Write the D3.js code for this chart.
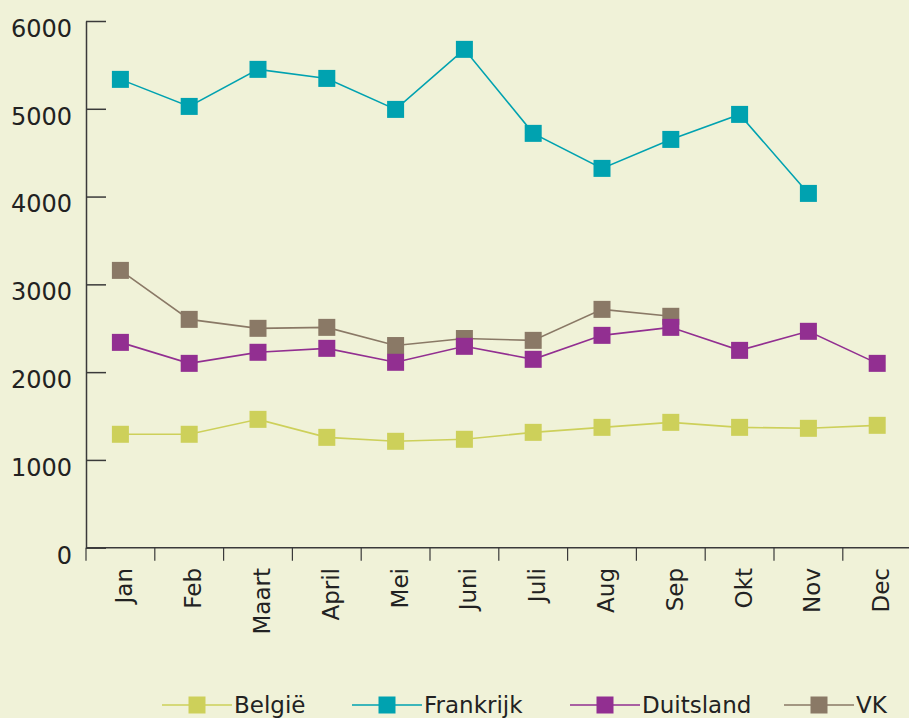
<!DOCTYPE html>
<html>
<head>
<meta charset="utf-8">
<script src="https://cdn.jsdelivr.net/npm/d3@7"></script>
<style>
  body { margin: 0; background: #f0f2d8; }
  svg { display: block; font-family: "DejaVu Sans", Verdana, sans-serif; }
</style>
</head>
<body>
<div id="grafica"></div>
<script>
// Data
var maanden = ["Jan", "Feb", "Maart", "April", "Mei", "Juni", "Juli", "Aug", "Sep", "Okt", "Nov", "Dec"];
var belgie = [1292, 1292, 1462, 1257, 1212, 1235, 1314, 1371, 1428, 1371, 1360, 1394];
var frankrijk = [5335, 5027, 5449, 5346, 4993, 5677, 4720, 4321, 4651, 4936, 4036, null];
var duitsland = [2339, 2100, 2226, 2271, 2112, 2294, 2146, 2419, 2510, 2248, 2465, 2100];
var vk = [3159, 2601, 2499, 2510, 2303, 2383, 2362, 2715, 2636, null, null, null];
var yTicks = [0, 1000, 2000, 3000, 4000, 5000, 6000];

var reeksen = [
  { naam: "België", waarden: belgie, kleur: "#cdd05a" },
  { naam: "Frankrijk", waarden: frankrijk, kleur: "#00a2b0" },
  { naam: "VK", waarden: vk, kleur: "#8a7966" },
  { naam: "Duitsland", waarden: duitsland, kleur: "#922f91" }
];
// volgorde in de legenda is anders dan de tekenvolgorde
var legendaVolgorde = ["België", "Frankrijk", "Duitsland", "VK"];
var legendaX = [162, 352, 570, 784];

var width = 909, height = 718;
var margeLinks = 86, margeBoven = 21, asOnder = 547.7;

var svg = d3.select("#grafica")
  .append("svg")
  .attr("width", width)
  .attr("height", height);

svg.append("rect")
  .attr("width", width)
  .attr("height", height)
  .attr("fill", "#f0f2d8");

var x = d3.scaleBand()
  .domain(maanden)
  .range([margeLinks, margeLinks + 12 * 68.8]);

var y = d3.scaleLinear()
  .domain([0, 6000])
  .range([asOnder, margeBoven]);

var asKleur = "#3a3a3a";

// y-as
var yAs = svg.append("g")
  .attr("transform", "translate(" + margeLinks + ",0)")
  .call(d3.axisLeft(y).tickValues(yTicks).tickFormat(d3.format("d"))
    .tickSizeInner(-20).tickSizeOuter(0).tickPadding(14));
yAs.select(".domain").attr("stroke", asKleur).attr("stroke-width", 1.5);
yAs.selectAll(".tick line").attr("stroke", asKleur).attr("stroke-width", 1.5);
yAs.selectAll(".tick text")
  .attr("dy", "0.64em")
  .attr("fill", "#222")
  .style("font-size", "24px")
  .style("font-family", "DejaVu Sans, Verdana, sans-serif");

// x-as
svg.append("line")
  .attr("x1", margeLinks)
  .attr("x2", width)
  .attr("y1", asOnder)
  .attr("y2", asOnder)
  .attr("stroke", asKleur)
  .attr("stroke-width", 1.5);

svg.selectAll("xtick")
  .data(maanden)
  .enter()
  .append("line")
  .attr("x1", function (d) { return x(d); })
  .attr("x2", function (d) { return x(d); })
  .attr("y1", asOnder)
  .attr("y2", asOnder + 13)
  .attr("stroke", asKleur)
  .attr("stroke-width", 1.2);

svg.selectAll("xlabel")
  .data(maanden)
  .enter()
  .append("text")
  .attr("transform", function (d) {
    return "translate(" + (x(d) + x.bandwidth() / 2 + 12) + "," + 568 + ") rotate(-90)";
  })
  .attr("text-anchor", "end")
  .attr("fill", "#222")
  .style("font-size", "23px")
  .text(function (d) { return d; });

// lijnen en markers
var lijn = d3.line()
  .defined(function (d) { return d != null; })
  .x(function (d, i) { return x(maanden[i]) + x.bandwidth() / 2; })
  .y(function (d) { return y(d); });

var size = 17;

reeksen.forEach(function (s) {
  svg.append("path")
    .datum(s.waarden)
    .attr("d", lijn)
    .attr("fill", "none")
    .attr("stroke", s.kleur)
    .attr("stroke-width", 1.6);
});

reeksen.forEach(function (s) {
  svg.append("g")
    .selectAll("rect")
    .data(s.waarden.map(function (v, i) { return { v: v, m: maanden[i] }; })
      .filter(function (d) { return d.v != null; }))
    .enter()
    .append("rect")
    .attr("x", function (d) { return x(d.m) + x.bandwidth() / 2 - size / 2; })
    .attr("y", function (d) { return y(d.v) - size / 2; })
    .attr("width", size)
    .attr("height", size)
    .attr("fill", s.kleur);
});

// legenda
var legY = 705;
legendaVolgorde.forEach(function (naam, i) {
  var s = reeksen.find(function (r) { return r.naam === naam; });
  var lx = legendaX[i];
  svg.append("line")
    .attr("x1", lx)
    .attr("x2", lx + 70)
    .attr("y1", legY)
    .attr("y2", legY)
    .attr("stroke", s.kleur)
    .attr("stroke-width", 1.6);
  svg.append("rect")
    .attr("x", lx + 35 - size / 2)
    .attr("y", legY - size / 2)
    .attr("width", size)
    .attr("height", size)
    .attr("fill", s.kleur);
  svg.append("text")
    .attr("x", lx + 72)
    .attr("y", legY + 8)
    .attr("fill", "#222")
    .style("font-size", "23px")
    .text(naam);
});
</script>
</body>
</html>
